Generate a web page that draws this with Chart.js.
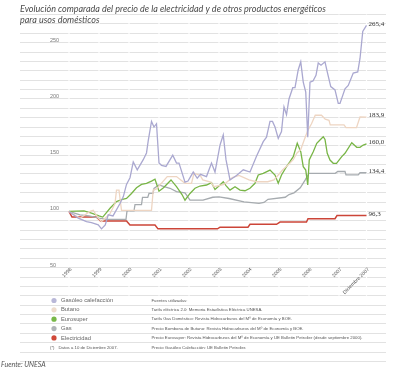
<!DOCTYPE html>
<html lang="es">
<head>
<meta charset="utf-8">
<title>Evolución comparada del precio de la electricidad</title>
<script src="https://cdn.jsdelivr.net/npm/chart.js@4.4.1/dist/chart.umd.min.js"></script>
<style>
  html, body { margin: 0; padding: 0; background: #fff; }
  #wrap { position: relative; width: 400px; height: 368px; }
</style>
</head>
<body>
<div id="wrap"><canvas id="preciosChart" width="400" height="368"></canvas></div>
<script>
//==============================Data============================

const seriesNames = ['Gasóleo calefacción', 'Butano', 'Eurosuper', 'Gas', 'Electricidad'];
const endLabels = ['265,4', '183,9', '160,0', '134,4', '96,3'];

// months counted from January 1998 (0) to December 2007 (119)
const gasoleoMonths = [0, 3.7, 7, 9, 11.7, 13, 14.5, 15.7, 17.6, 20.4, 21.7, 23, 24.4, 25.7, 27.3, 29.7, 31, 31.7, 33, 34,
  35, 36, 37, 38.8, 41.5, 43, 44, 46.4, 47.6, 49.7, 51.3, 52.6, 55, 57, 58.4, 60.4, 61.7, 62.8, 64.4, 67,
  69.7, 72.4, 75, 77.7, 79, 80.4, 81.4, 82.4, 83.7, 85, 86, 87, 88, 89.5, 90.4, 91.7, 92.7, 93.7, 94.7, 95.5,
  96.4, 97.6, 98.8, 99.7, 100.8, 102.4, 103.3, 104.7, 106.4, 107.7, 108.4, 110.4, 111.7, 113.7, 115.5, 116.4, 117.5, 119];
const gasoleoValues = [100, 94, 91, 90, 88, 84.5, 88, 97, 96, 107, 113, 124, 130, 144, 137, 146, 152, 163, 180, 175,
  178, 143, 141, 140, 150, 143, 143, 126, 127, 135, 129.5, 133, 131, 143, 135, 159, 168, 146, 128, 132,
  137, 135, 149, 162, 166, 180, 180, 175, 165, 171, 193, 186, 200, 210, 210, 226, 233, 215, 206, 166,
  215, 216, 221, 232, 230, 233, 224, 211, 208, 196, 196, 209, 212, 223, 224, 236, 260, 265.4];

const butanoMonths = [0, 4.4, 8.4, 9.7, 11.7, 13, 16.4, 18.4, 19, 20, 21, 33, 33.7, 35, 39.3, 43, 46.4, 49, 50, 52.5,
  53.5, 56.7, 58, 62, 65.3, 68, 72, 75, 79.5, 82, 85.5, 87.5, 89.7, 91.2, 92.7, 94, 95.5, 97, 98.5, 101,
  102.5, 104, 104.5, 110, 110.8, 115, 116.4, 119];
const butanoValues = [100, 94, 100, 101, 94, 91, 98, 107, 119, 119, 101, 101, 119, 120, 131, 131, 125, 125, 134, 132,
  128, 126, 122, 124, 130, 132, 128, 126.4, 126.4, 128, 137, 141, 146, 152, 155, 163, 172, 178, 185.5, 185.5,
  182, 181, 177, 177, 174.5, 174.5, 184, 183.9];

const eurosuperMonths = [0, 6, 9, 12, 13.5, 16.5, 19, 21, 23, 25, 27, 29, 31, 33, 34.4, 36, 37.8, 40.8, 43, 45.2,
  46.4, 48.4, 50.4, 52.4, 55, 57, 58.4, 60.4, 61.7, 62.8, 64.4, 66.4, 68.4, 70.4, 72.4, 74.4, 75.7, 77.7, 80.4, 82.4,
  83.7, 85, 87, 88.4, 89.7, 91.3, 92.7, 93.7, 94.7, 95.5, 96.1, 97.7, 99.1, 100.4, 101.7, 102.4, 103.3, 104.4, 105.7, 107,
  109.1, 110.4, 113.1, 115.1, 116.4, 117.7, 119];
const eurosuperValues = [100, 100.5, 98.5, 96, 95, 103, 108.7, 110.5, 111.5, 116, 121, 124, 125, 127, 128.6, 118, 121, 128, 122, 115,
  110, 116, 120.6, 122.6, 123.5, 125.6, 119.5, 123.5, 126.4, 123, 119, 122, 119, 118.4, 120.6, 125, 132.4, 133.9, 136.8, 132.4,
  125, 132.4, 139.8, 144.2, 148.7, 160.6, 153.1, 139.8, 136.8, 123.5, 145.7, 153.1, 160.6, 163.5, 166.4, 164, 151.7, 145.7, 142.8, 142.8,
  148.7, 151.7, 161.1, 157, 157, 159, 160];

const gasMonths = [0, 4.4, 8, 12, 15, 22.8, 23.2, 26, 26.4, 29, 29.4, 31.5, 32, 33.6, 34, 36, 38, 40.4, 43, 46.4,
  48.4, 53.6, 57.5, 60, 64, 70, 76, 78, 79.6, 86.5, 88, 90, 92.5, 94.5, 96, 106.5, 107.5, 110.4, 110.8, 115.7,
  116.4, 119];
const gasValues = [100, 97, 96, 94, 93, 93, 100.5, 100.5, 106, 106, 112.5, 112.5, 116, 116, 120.5, 123.5, 122, 120.6, 117.6, 116.5,
  110, 110, 112.6, 113, 111.5, 108.5, 107.2, 108, 110.8, 112.6, 115, 116.5, 121, 128, 133.9, 133.9, 135.5, 135.5, 132.5, 132.5,
  134.4, 134.4];

const electricidadMonths = [0, 1.2, 11, 12.6, 23, 24.4, 34.4, 35.6, 59.4, 60.4, 71.6, 72.4, 83, 84.4, 95, 95.6, 106.4, 107.2, 119];
const electricidadValues = [100, 95, 95, 91.5, 91.5, 88, 88, 84.5, 84.5, 86, 86, 88.5, 88.5, 90.5, 90.5, 93.5, 93.5, 96.3, 96.3];

const yearLabels = ['1998', '1999', '2000', '2001', '2002', '2003', '2004', '2005', '2006', '2007', 'Diciembre 2007'];
const yearMonths = [0, 12, 24, 36, 48, 60, 72, 84, 96, 108, 119];
const yTickLabels = [50, 100, 150, 200, 250];

const sourceLines = [
  'Fuentes utilizadas:',
  'Tarifa eléctrica 2.0: Memoria Estadística Eléctrica UNESA.',
  'Tarifa Gas Doméstico: Revista Hidrocarburos del Mº de Economía y BOE.',
  'Precio Bombona de Butano: Revista Hidrocarburos del Mº de Economía y BOE.',
  'Precio Eurosuper: Revista Hidrocarburos del Mº de Economía y UE Bulletin Petrolier (desde septiembre 2000).',
  'Precio Gasóleo Calefacción: UE Bulletin Petrolier.'
];

//==============================Styles============================

const seriesColors = ['#aaa8d0', '#eed5c2', '#78b546', '#a6abaf', '#cc4538'];
const markerColors = ['#b9b8d8', '#eedccc', '#78b848', '#b0b4b8', '#d04838'];
const gridStep = 50 / 6;   // the ruled background: six lines per 50 points
const gridValues = [];
for (let v = 275; v > -34; v -= gridStep) gridValues.push(v);

const allMonths = [gasoleoMonths, butanoMonths, eurosuperMonths, gasMonths, electricidadMonths];
const allValues = [gasoleoValues, butanoValues, eurosuperValues, gasValues, electricidadValues];

//==============================Plugin for texts============================

const decorations = {
  id: 'decorations',
  beforeDatasetsDraw(chart) {
    const {ctx, chartArea, scales: {x, y}} = chart;
    const bottom = y.getPixelForValue(25);
    ctx.save();
    ctx.strokeStyle = '#ffffff';
    ctx.lineWidth = 1.2;
    yearMonths.forEach(m => {
      const px = x.getPixelForValue(m);
      ctx.beginPath();
      ctx.moveTo(px, chartArea.top);
      ctx.lineTo(px, bottom);
      ctx.stroke();
    });

    // value labels on the ruled lines
    ctx.fillStyle = '#7a7a7a';
    ctx.font = '5.5px "Liberation Sans"';
    ctx.textAlign = 'left';
    ctx.textBaseline = 'middle';
    yTickLabels.forEach(v => {
      ctx.fillText(String(v), chartArea.left + 30, y.getPixelForValue(v) - 2.5);
    });
    ctx.restore();
  },
  afterDraw(chart) {
    const {ctx, scales: {x, y}} = chart;
    ctx.save();

    // title
    ctx.fillStyle = '#4a4a4a';
    ctx.font = 'italic 9px Lato';
    ctx.textAlign = 'left';
    ctx.textBaseline = 'alphabetic';
    ctx.fillText('Evolución comparada del precio de la electricidad y de otros productos energéticos', 20, 12);
    ctx.fillText('para usos domésticos', 20, 23);

    // year labels, rotated
    ctx.fillStyle = '#555';
    ctx.font = '5px "Liberation Sans"';
    ctx.textAlign = 'right';
    ctx.textBaseline = 'middle';
    const labelY = y.getPixelForValue(50) + 1;
    yearLabels.forEach((lab, i) => {
      ctx.save();
      ctx.translate(x.getPixelForValue(yearMonths[i]) + 2, labelY);
      ctx.rotate(-Math.PI / 4);
      ctx.fillText(lab, 0, 0);
      ctx.restore();
    });

    // end values
    ctx.fillStyle = '#333';
    ctx.font = '7px "Liberation Serif"';
    ctx.textAlign = 'left';
    chart.data.datasets.forEach((ds, i) => {
      const pts = chart.getDatasetMeta(i).data;
      const last = pts[pts.length - 1];
      ctx.fillText(endLabels[i], last.x + 2, last.y - 1.5);
    });

    // legend table
    const rowY = r => y.getPixelForValue(25 - (r + 0.5) * gridStep);
    seriesNames.forEach((name, i) => {
      ctx.fillStyle = markerColors[i];
      ctx.beginPath();
      ctx.arc(54, rowY(i), 2.6, 0, Math.PI * 2);
      ctx.fill();
      ctx.fillStyle = '#666';
      ctx.font = '5.8px "Liberation Sans"';
      ctx.fillText(name, 61, rowY(i));
    });
    ctx.fillStyle = '#555';
    ctx.font = '4.3px "Liberation Sans"';
    ctx.fillText('(*)', 50, rowY(5));
    ctx.fillText('Datos a 10 de Diciembre 2007.', 58.5, rowY(5));
    sourceLines.forEach((line, i) => {
      ctx.fillText(line, 151.5, rowY(i));
    });

    // source
    ctx.fillStyle = '#555';
    ctx.font = 'italic 7px Lato';
    ctx.textBaseline = 'alphabetic';
    ctx.fillText('Fuente: UNESA', 1, 366.5);
    ctx.restore();
  }
};

//==============================Chart============================

const ctx = document.getElementById('preciosChart');

new Chart(ctx, {
  type: 'line',
  data: {
    datasets: seriesNames.map((name, i) => ({
      label: name,
      data: allMonths[i].map((m, j) => ({x: m, y: allValues[i][j]})),
      borderColor: seriesColors[i],
      borderWidth: i === 4 ? 1.5 : 1.3,
      pointRadius: 0,
      tension: 0,
      fill: false
    }))
  },
  options: {
    responsive: false,
    animation: false,
    devicePixelRatio: 1,
    layout: { padding: { left: 20, right: 14, top: 14.6, bottom: 6.6 } },
    plugins: {
      legend: { display: false },
      tooltip: { enabled: false }
    },
    scales: {
      x: {
        type: 'linear',
        display: false,
        min: -19.6,
        max: 126.8
      },
      y: {
        min: -100 / 3,
        max: 275,
        afterBuildTicks: scale => {
          scale.ticks = gridValues.map(v => ({value: v}));
        },
        grid: { color: '#e2e2e2', lineWidth: 1, drawTicks: false },
        border: { display: false },
        ticks: { display: false }
      }
    }
  },
  plugins: [decorations]
});
</script>
</body>
</html>
